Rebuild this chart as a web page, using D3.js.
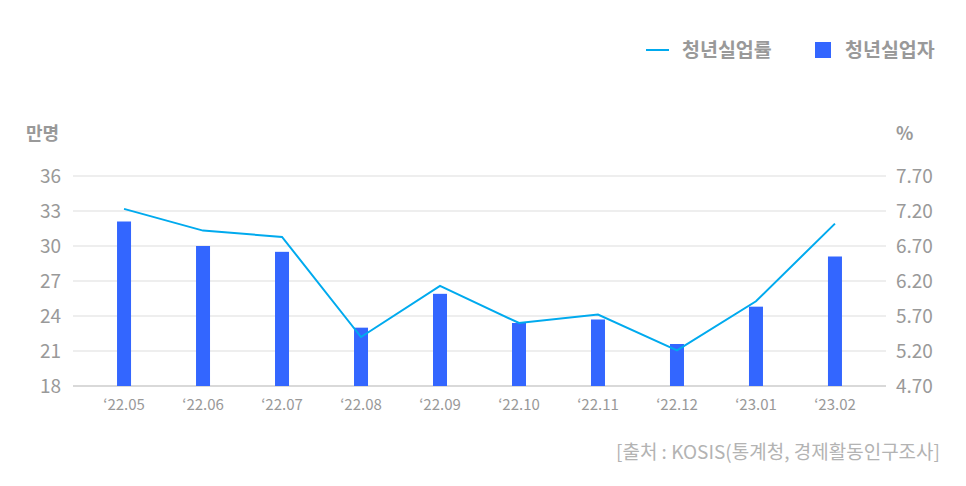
<!DOCTYPE html>
<html>
<head>
<meta charset="utf-8">
<script src="https://cdn.jsdelivr.net/npm/d3@7"></script>
<style>
  body { margin: 0; background: #fff; }
  svg text { font-family: "Noto Sans CJK KR", "Noto Sans", sans-serif; }
</style>
</head>
<body>
<svg id="chart"></svg>
<script>
const months = ["'22.05", "'22.06", "'22.07", "'22.08", "'22.09", "'22.10", "'22.11", "'22.12", "'23.01", "'23.02"];
const jobless = [32.1, 30.0, 29.5, 23.0, 25.9, 23.4, 23.7, 21.6, 24.8, 29.1];   // 청년실업자 (만명)
const rate = [7.23, 6.92, 6.83, 5.40, 6.13, 5.60, 5.72, 5.21, 5.91, 7.02];      // 청년실업률 (%)
const leftTicks = [18, 21, 24, 27, 30, 33, 36];
const rightTicks = [4.70, 5.20, 5.70, 6.20, 6.70, 7.20, 7.70];

const W = 966, H = 486;
const x0 = 73, x1 = 886, yTop = 176, yBot = 386;
const FONT = '"Noto Sans CJK KR", "Noto Sans", sans-serif';

const svg = d3.select('#chart').attr('width', W).attr('height', H);

const x = d3.scaleBand().domain(months).range([x0, x1]).paddingInner(0).paddingOuter(0.146);
const yL = d3.scaleLinear().domain([18, 36]).range([yBot, yTop]);
const yR = d3.scaleLinear().domain([4.7, 7.7]).range([yBot, yTop]);

// gridlines
svg.append('g')
  .selectAll('line')
  .data(leftTicks)
  .join('line')
  .attr('x1', x0).attr('x2', x1)
  .attr('y1', d => yL(d)).attr('y2', d => yL(d))
  .attr('stroke', d => d === 18 ? '#cccccc' : '#e8e8e8')
  .attr('stroke-width', 1.5);

// left axis
const axL = svg.append('g')
  .attr('transform', `translate(${x0},0)`)
  .call(d3.axisLeft(yL).tickValues(leftTicks).tickSize(0).tickPadding(12));
axL.select('.domain').remove();
axL.selectAll('text').attr('fill', '#999').attr('font-family', FONT).style('font-size', '19px');

// right axis
const axR = svg.append('g')
  .attr('transform', `translate(${x1},0)`)
  .call(d3.axisRight(yR).tickValues(rightTicks).tickFormat(d3.format('.2f')).tickSize(0).tickPadding(10));
axR.select('.domain').remove();
axR.selectAll('text').attr('fill', '#999').attr('font-family', FONT).style('font-size', '19px');

// x axis labels
const axB = svg.append('g')
  .attr('transform', `translate(0,${yBot})`)
  .call(d3.axisBottom(x).tickSize(0).tickPadding(13).tickFormat(d => d.replace("'", '\u2018')));
axB.select('.domain').remove();
axB.selectAll('text').attr('fill', '#999').attr('font-family', FONT).style('font-size', '15px');

// bars
const bw = 14;
svg.append('g')
  .selectAll('rect')
  .data(jobless)
  .join('rect')
  .attr('x', (d, i) => x(months[i]) + x.bandwidth() / 2 - bw / 2)
  .attr('y', d => yL(d))
  .attr('width', bw)
  .attr('height', d => yBot - yL(d))
  .attr('fill', '#3366ff');

// line
const line = d3.line()
  .x((d, i) => x(months[i]) + x.bandwidth() / 2)
  .y(d => yR(d));
svg.append('path')
  .datum(rate)
  .attr('d', line)
  .attr('fill', 'none')
  .attr('stroke', '#00aaee')
  .attr('stroke-width', 2);

// unit labels
svg.append('text').attr('x', 26).attr('y', 140).text('만명')
  .attr('fill', '#999').style('font-size', '18px').style('font-weight', 700);
svg.append('text').attr('x', 896).attr('y', 140).text('%')
  .attr('fill', '#999').style('font-size', '18px').style('font-weight', 700);

// legend
const lg = svg.append('g');
lg.append('line').attr('x1', 646).attr('x2', 669).attr('y1', 50).attr('y2', 50)
  .attr('stroke', '#00aaee').attr('stroke-width', 2);
lg.append('text').attr('x', 682).attr('y', 57).text('청년실업률')
  .attr('fill', '#999').style('font-size', '19.5px').style('font-weight', 700);
lg.append('rect').attr('x', 815).attr('y', 42).attr('width', 16).attr('height', 16).attr('fill', '#3366ff');
lg.append('text').attr('x', 845).attr('y', 57).text('청년실업자')
  .attr('fill', '#999').style('font-size', '19.5px').style('font-weight', 700);

// source
svg.append('text').attr('x', 940).attr('y', 459).attr('text-anchor', 'end')
  .text('[출처 : KOSIS(통계청, 경제활동인구조사]')
  .attr('fill', '#b3b3b3').style('font-size', '19px');
</script>
</body>
</html>
